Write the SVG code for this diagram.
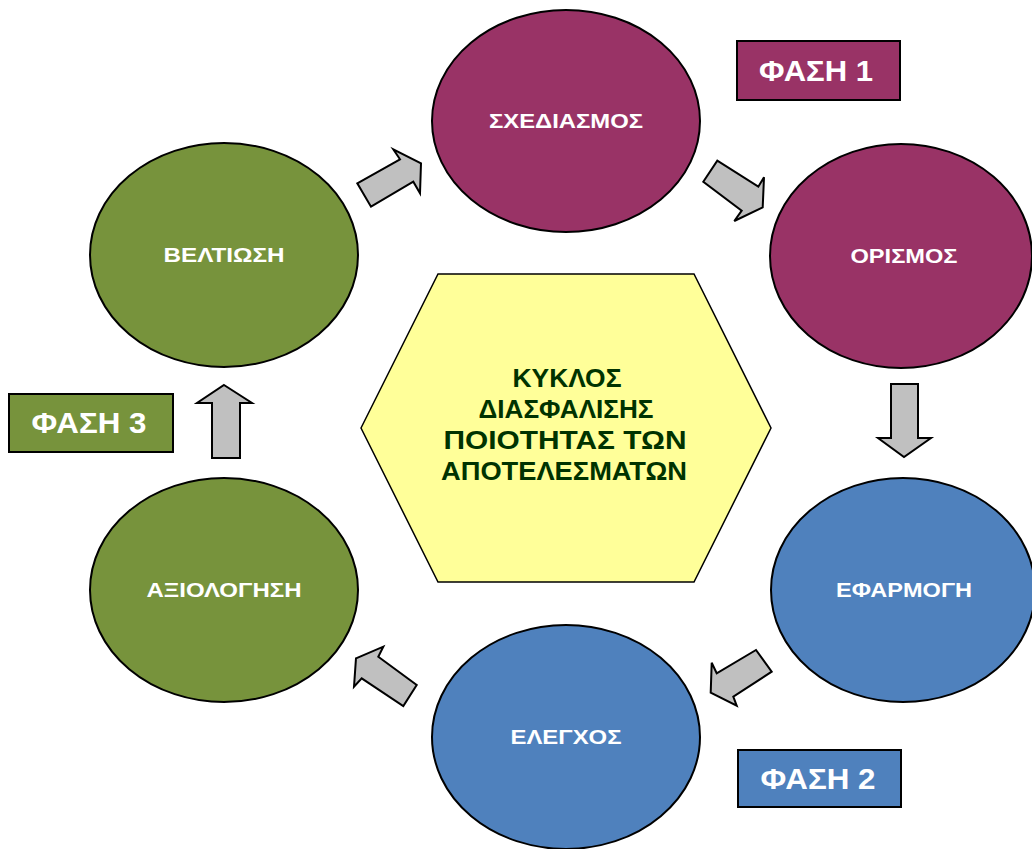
<svg xmlns="http://www.w3.org/2000/svg" width="1032" height="849" viewBox="0 0 1032 849">
<style>
.el{stroke:#000;stroke-width:2}
.p{fill:#993366}.b{fill:#4F81BD}.g{fill:#77933C}
.lbl{font-family:"Liberation Sans",Arial,sans-serif;font-weight:bold;font-size:21px;fill:#fff;text-anchor:middle}
.ph{font-family:"Liberation Sans",Arial,sans-serif;font-weight:bold;font-size:30px;fill:#fff;text-anchor:middle}
.ctr{font-family:"Liberation Sans",Arial,sans-serif;font-weight:bold;font-size:25px;fill:#003300;text-anchor:middle}
.box{stroke:#000;stroke-width:2}
.arr{fill:#C0C0C0;stroke:#000;stroke-width:2;stroke-linejoin:miter}
</style>
<rect width="1032" height="849" fill="#fff"/>
<g id="connectors">
<polygon class="arr" points="357.3,183.3 400,159.3 393.3,149.3 421,163.3 420,193.3 413.3,181.7 371,206.7"/>
<polygon class="arr" points="703.3,181.7 717.3,160.7 758.3,186.7 764,177.3 762.7,207.3 734.3,221 741.7,210.7"/>
<polygon class="arr" points="891,384 918,384 918,438 931,438 904,457 878,438 891,438"/>
<polygon class="arr" points="711.7,662.7 716.7,673.3 756,650 771.7,671.7 733.3,696.7 736.7,705.7 710.7,692.7"/>
<polygon class="arr" points="356,658.3 383.3,646.7 378.3,656.7 416.7,685 403.3,706 361.7,678.3 354,686.7"/>
<polygon class="arr" points="224,385 252,403 240,403 240,458 212,458 212,403 197,403"/>
</g>
<g id="center">
<polygon points="361,428 438,274 694,274 771,428 694,582 438,582" fill="#FFFF99" stroke="#000" stroke-width="1.5"/>
<text class="ctr" x="567" y="387" textLength="109" lengthAdjust="spacingAndGlyphs">ΚΥΚΛΟΣ</text>
<text class="ctr" x="566" y="418" textLength="175" lengthAdjust="spacingAndGlyphs">ΔΙΑΣΦΑΛΙΣΗΣ</text>
<text class="ctr" x="565" y="449" textLength="243" lengthAdjust="spacingAndGlyphs">ΠΟΙΟΤΗΤΑΣ ΤΩΝ</text>
<text class="ctr" x="564" y="480" textLength="246" lengthAdjust="spacingAndGlyphs">ΑΠΟΤΕΛΕΣΜΑΤΩΝ</text>
</g>
<g id="n-schediasmos">
<ellipse class="el p" cx="566" cy="121" rx="134" ry="111"/>
<text class="lbl" x="566" y="128" textLength="154" lengthAdjust="spacingAndGlyphs">ΣΧΕΔΙΑΣΜΟΣ</text>
</g>
<g id="n-orismos">
<ellipse class="el p" cx="901" cy="256" rx="131" ry="112"/>
<text class="lbl" x="904" y="263" textLength="107" lengthAdjust="spacingAndGlyphs">ΟΡΙΣΜΟΣ</text>
</g>
<g id="n-efarmogi">
<ellipse class="el b" cx="903" cy="590" rx="132" ry="112"/>
<text class="lbl" x="904" y="597" textLength="136" lengthAdjust="spacingAndGlyphs">ΕΦΑΡΜΟΓΗ</text>
</g>
<g id="n-elegchos">
<ellipse class="el b" cx="566" cy="737" rx="134" ry="112"/>
<text class="lbl" x="566" y="744" textLength="111" lengthAdjust="spacingAndGlyphs">ΕΛΕΓΧΟΣ</text>
</g>
<g id="n-axiologisi">
<ellipse class="el g" cx="224" cy="590" rx="134" ry="112"/>
<text class="lbl" x="224" y="597" textLength="155" lengthAdjust="spacingAndGlyphs">ΑΞΙΟΛΟΓΗΣΗ</text>
</g>
<g id="n-veltiosi">
<ellipse class="el g" cx="224" cy="255" rx="134" ry="112"/>
<text class="lbl" x="224" y="262" textLength="121" lengthAdjust="spacingAndGlyphs">ΒΕΛΤΙΩΣΗ</text>
</g>
<g id="phase1">
<rect class="box p" x="737" y="41" width="163" height="59"/>
<text class="ph" x="816" y="81" textLength="114" lengthAdjust="spacingAndGlyphs">ΦΑΣΗ 1</text>
</g>
<g id="phase2">
<rect class="box b" x="738" y="750" width="163" height="57"/>
<text class="ph" x="818" y="789" textLength="115" lengthAdjust="spacingAndGlyphs">ΦΑΣΗ 2</text>
</g>
<g id="phase3">
<rect class="box g" x="9" y="394" width="164" height="58"/>
<text class="ph" x="89" y="433" textLength="115" lengthAdjust="spacingAndGlyphs">ΦΑΣΗ 3</text>
</g>
</svg>
